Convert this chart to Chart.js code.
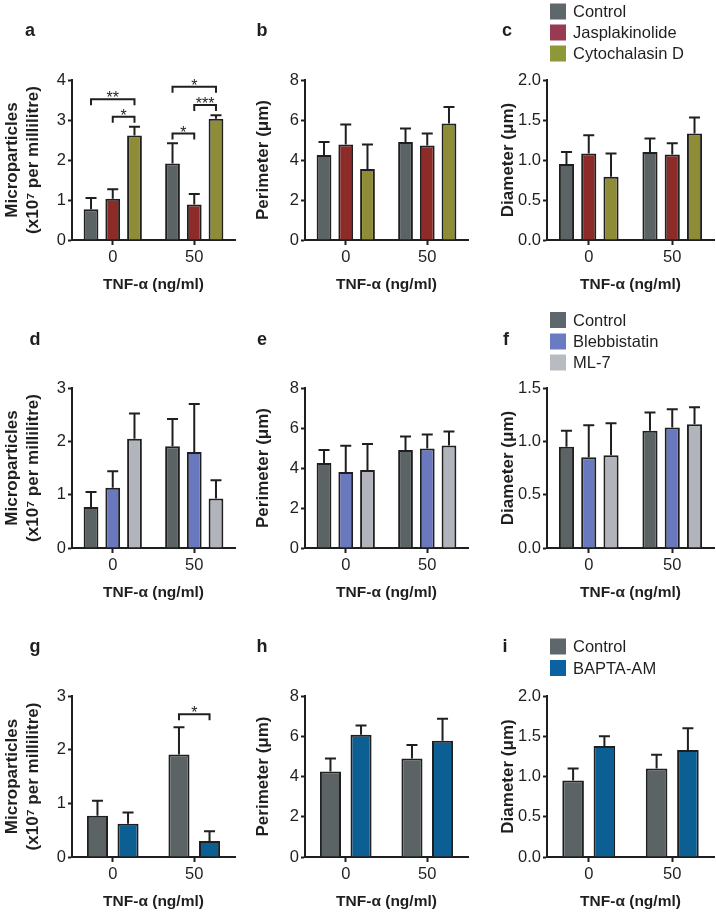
<!DOCTYPE html>
<html><head><meta charset="utf-8">
<script src="https://cdn.jsdelivr.net/npm/chart.js@4.4.1/dist/chart.umd.min.js"></script>
<style>
html,body{margin:0;padding:0;background:#fff;}
body{width:716px;height:914px;position:relative;overflow:hidden;}
canvas{position:absolute;}
</style></head><body>
<canvas id="pa" width="240" height="300" style="left:0px;top:0px"></canvas>
<canvas id="pb" width="236" height="300" style="left:240px;top:0px"></canvas>
<canvas id="pc" width="240" height="300" style="left:476px;top:0px"></canvas>
<canvas id="pd" width="240" height="305" style="left:0px;top:300px"></canvas>
<canvas id="pe" width="236" height="305" style="left:240px;top:300px"></canvas>
<canvas id="pf" width="240" height="305" style="left:476px;top:300px"></canvas>
<canvas id="pg" width="240" height="309" style="left:0px;top:605px"></canvas>
<canvas id="ph" width="236" height="309" style="left:240px;top:605px"></canvas>
<canvas id="pi" width="240" height="309" style="left:476px;top:605px"></canvas>
<script>
// ---------- DATA ----------
const categories = ['0', '50'];
const xTitle = 'TNF-\u03B1 (ng/ml)';
const mpTitle = ['Microparticles', '(x10\u2077 per millilitre)'];
const perTitle = 'Perimeter (\u03BCm)';
const diaTitle = 'Diameter (\u03BCm)';

const seriesNames1 = ['Control', 'Jasplakinolide', 'Cytochalasin D'];
const seriesNames2 = ['Control', 'Blebbistatin', 'ML-7'];
const seriesNames3 = ['Control', 'BAPTA-AM'];

// Microparticles (x10^7 per millilitre): means and upper error
const mpControl = [0.77, 1.91];  const mpControlErr = [0.28, 0.51];
const mpJasp    = [1.03, 0.89];  const mpJaspErr    = [0.24, 0.26];
const mpCyto    = [2.61, 3.03];  const mpCytoErr    = [0.22, 0.09];
const mpBleb    = [1.13, 1.80];  const mpBlebErr    = [0.31, 0.90];
const mpML7     = [2.05, 0.93];  const mpML7Err     = [0.47, 0.34];
const mpBapta   = [0.62, 0.30];  const mpBaptaErr   = [0.21, 0.18];
// Perimeter (um)
const perControl = [4.25, 4.90]; const perControlErr = [0.65, 0.67];
const perJasp    = [4.77, 4.73]; const perJaspErr    = [1.01, 0.59];
const perCyto    = [3.55, 5.82]; const perCytoErr    = [1.23, 0.83];
const perBleb    = [3.80, 4.97]; const perBlebErr    = [1.31, 0.70];
const perML7     = [3.90, 5.13]; const perML7Err     = [1.30, 0.69];
const perBapta   = [6.07, 5.78]; const perBaptaErr   = [0.47, 1.09];
// Diameter (um)
const diaControl = [0.95, 1.10]; const diaControlErr = [0.15, 0.17];
const diaJasp    = [1.08, 1.07]; const diaJaspErr    = [0.23, 0.14];
const diaCyto    = [0.79, 1.33]; const diaCytoErr    = [0.29, 0.20];
const diaBleb    = [0.85, 1.13]; const diaBlebErr    = [0.30, 0.17];
const diaML7     = [0.87, 1.16]; const diaML7Err     = [0.30, 0.16];
const diaBapta   = [1.38, 1.33]; const diaBaptaErr   = [0.12, 0.27];

// Tick values
const ticksMP4 = [0, 1, 2, 3, 4];
const ticksMP3 = [0, 1, 2, 3];
const ticksPer = [0, 2, 4, 6, 8];
const ticksDia2 = [0, 0.5, 1.0, 1.5, 2.0];
const ticksDia15 = [0, 0.5, 1.0, 1.5];

// Significance brackets: group index, from series, to series, height, label
const sigAGroup = [0, 0, 1, 1, 1];
const sigAFrom  = [0, 1, 0, 1, 0];
const sigATo    = [2, 2, 2, 2, 1];
const sigAY     = [3.52, 3.08, 3.83, 3.375, 2.66];
const sigALabel = ['**', '*', '*', '***', '*'];
const sigGGroup = [1];
const sigGFrom  = [0];
const sigGTo    = [1];
const sigGY     = [2.66];
const sigGLabel = ['*'];

// ---------- STYLE ----------
const FONT = '"Liberation Sans", Arial, Helvetica, "DejaVu Sans", sans-serif';
const INK = '#1f1f1f';
const barColors = {Control:'#5b6365', Jasplakinolide:'#8c2b27', 'Cytochalasin D':'#8e8c37',
  Blebbistatin:'#6a78bd', 'ML-7':'#b1b5bb', 'BAPTA-AM':'#0c5f92'};
const legendColors = {Control:'#5e676b', Jasplakinolide:'#973b53', 'Cytochalasin D':'#8f9838',
  Blebbistatin:'#6b7bc2', 'ML-7':'#b8bcc2', 'BAPTA-AM':'#0a62a3'};

const canvasX = [0, 240, 476], canvasW = [240, 236, 240];
const canvasY = [0, 300, 605], canvasH = [300, 305, 309];
const chartLeft = [72, 305, 547], chartRight = [235, 468, 714];
const chartTop = [80, 388, 696], chartBottom = [240, 548, 857];
const yTitleCenter = [12, 263, 508];
const X_AXIS_H = 54;

const overlay = {
  id: 'overlay',
  afterDatasetsDraw(chart, args, o) {
    const ctx = chart.ctx, ys = chart.scales.y;
    ctx.save();
    ctx.strokeStyle = INK; ctx.lineWidth = 2; ctx.lineCap = 'butt';
    chart.data.datasets.forEach((ds, di) => {
      const meta = chart.getDatasetMeta(di);
      meta.data.forEach((bar, i) => {
        const y0 = ys.getPixelForValue(ds.data[i]);
        const y1 = ys.getPixelForValue(ds.data[i] + ds.errors[i]);
        ctx.beginPath();
        ctx.moveTo(bar.x, y0); ctx.lineTo(bar.x, y1);
        ctx.moveTo(bar.x - o.cap / 2, y1); ctx.lineTo(bar.x + o.cap / 2, y1);
        ctx.stroke();
      });
    });
    if (o.sig) {
      const s = o.sig;
      ctx.lineJoin = 'miter';
      for (let k = 0; k < s.group.length; k++) {
        const x1 = chart.getDatasetMeta(s.from[k]).data[s.group[k]].x;
        const x2 = chart.getDatasetMeta(s.to[k]).data[s.group[k]].x;
        const yb = ys.getPixelForValue(s.y[k]);
        ctx.beginPath();
        ctx.moveTo(x1, yb + 6); ctx.lineTo(x1, yb); ctx.lineTo(x2, yb); ctx.lineTo(x2, yb + 6);
        ctx.stroke();
        ctx.fillStyle = INK;
        ctx.font = '16px ' + FONT;
        ctx.textAlign = 'center'; ctx.textBaseline = 'alphabetic';
        ctx.fillText(s.label[k], (x1 + x2) / 2, yb + 4);
      }
    }
    ctx.restore();
  },
  afterDraw(chart, args, o) {
    const ctx = chart.ctx;
    ctx.save();
    ctx.fillStyle = INK;
    ctx.font = 'bold 18px ' + FONT;
    ctx.textAlign = 'center'; ctx.textBaseline = 'alphabetic';
    ctx.fillText(o.label, o.labelX, o.labelY);
    if (o.legend) {
      ctx.font = '16.5px ' + FONT;
      ctx.textAlign = 'left'; ctx.textBaseline = 'middle';
      o.legend.forEach((name, i) => {
        const cy = o.legendY[i];
        ctx.fillStyle = legendColors[name];
        ctx.fillRect(74, cy - 8, 16, 16);
        ctx.fillStyle = INK;
        ctx.fillText(name, 97, cy + 1);
      });
    }
    ctx.restore();
  }
};

function makePanel(id, col, row, names, values, errors, yTicks, yTitle, decimals, label, labelPos, legendY, sig) {
  const nBars = names.length;
  const datasets = names.map((n, i) => ({
    label: n, data: values[i], errors: errors[i],
    backgroundColor: barColors[n], borderColor: INK, borderWidth: 2,
    borderSkipped: 'start',
    categoryPercentage: nBars === 3 ? 0.8 : 0.75,
    barPercentage: nBars === 3 ? 0.68 : 0.69
  }));
  const lh = 1.24, tf = 17;
  const titlePadTop = yTitleCenter[col] - canvasX[col] - tf * lh / 2;
  new Chart(document.getElementById(id), {
    type: 'bar',
    data: { labels: categories, datasets },
    plugins: [overlay],
    options: {
      responsive: false, animation: false, events: [],
      layout: { padding: {
        left: 0,
        right: canvasW[col] - (chartRight[col] - canvasX[col]),
        top: chartTop[row] - canvasY[row],
        bottom: canvasH[row] - (chartBottom[row] - canvasY[row]) - X_AXIS_H
      }},
      plugins: {
        legend: { display: false }, tooltip: { enabled: false },
        overlay: { label, labelX: labelPos[0] - canvasX[col], labelY: labelPos[1] - canvasY[row],
          legend: legendY ? names : null, legendY, cap: 11, sig }
      },
      scales: {
        x: {
          offset: true,
          grid: { display: true, drawOnChartArea: false, drawTicks: true, tickLength: 5,
                  offset: false, tickColor: INK, tickWidth: 2, color: INK },
          border: { display: true, color: INK, width: 2 },
          ticks: { color: INK, padding: 3, font: { family: FONT, size: 16.5 } },
          title: { display: true, text: xTitle, color: INK, padding: { top: 0, bottom: 0 },
                   font: { family: FONT, size: 15.5, weight: 'bold', lineHeight: 1.2 } },
          afterFit: s => { s.height = X_AXIS_H; }
        },
        y: {
          min: yTicks[0], max: yTicks[yTicks.length - 1],
          afterBuildTicks: s => { s.ticks = yTicks.map(v => ({ value: v })); },
          grid: { display: true, drawOnChartArea: false, drawTicks: true, tickLength: 4,
                  tickColor: INK, tickWidth: 2, color: INK },
          border: { display: true, color: INK, width: 2 },
          ticks: { color: INK, padding: 2, font: { family: FONT, size: 16.5 },
                   callback: v => Number(v).toFixed(decimals) },
          title: { display: true, text: yTitle, color: INK, padding: { top: titlePadTop, bottom: 0 },
                   font: { family: FONT, size: tf, weight: 'bold', lineHeight: lh } },
          afterFit: s => { s.width = chartLeft[col] - canvasX[col]; }
        }
      }
    }
  });
}

const sigA = { group: sigAGroup, from: sigAFrom, to: sigATo, y: sigAY, label: sigALabel };
const sigG = { group: sigGGroup, from: sigGFrom, to: sigGTo, y: sigGY, label: sigGLabel };

makePanel('pa', 0, 0, seriesNames1, [mpControl, mpJasp, mpCyto], [mpControlErr, mpJaspErr, mpCytoErr],
  ticksMP4, mpTitle, 0, 'a', [30, 36], null, sigA);
makePanel('pb', 1, 0, seriesNames1, [perControl, perJasp, perCyto], [perControlErr, perJaspErr, perCytoErr],
  ticksPer, perTitle, 0, 'b', [262, 36], null, null);
makePanel('pc', 2, 0, seriesNames1, [diaControl, diaJasp, diaCyto], [diaControlErr, diaJaspErr, diaCytoErr],
  ticksDia2, diaTitle, 1, 'c', [507, 36], [11.5, 32.5, 53.5], null);
makePanel('pd', 0, 1, seriesNames2, [mpControl, mpBleb, mpML7], [mpControlErr, mpBlebErr, mpML7Err],
  ticksMP3, mpTitle, 0, 'd', [35, 345], null, null);
makePanel('pe', 1, 1, seriesNames2, [perControl, perBleb, perML7], [perControlErr, perBlebErr, perML7Err],
  ticksPer, perTitle, 0, 'e', [262, 345], null, null);
makePanel('pf', 2, 1, seriesNames2, [diaControl, diaBleb, diaML7], [diaControlErr, diaBlebErr, diaML7Err],
  ticksDia15, diaTitle, 1, 'f', [506, 345], [20, 41.5, 62.5], null);
makePanel('pg', 0, 2, seriesNames3, [mpControl, mpBapta], [mpControlErr, mpBaptaErr],
  ticksMP3, mpTitle, 0, 'g', [35, 652], null, sigG);
makePanel('ph', 1, 2, seriesNames3, [perControl, perBapta], [perControlErr, perBaptaErr],
  ticksPer, perTitle, 0, 'h', [262, 652], null, null);
makePanel('pi', 2, 2, seriesNames3, [diaControl, diaBapta], [diaControlErr, diaBaptaErr],
  ticksDia2, diaTitle, 1, 'i', [505, 652], [41.5, 63], null);
</script>
</body></html>
